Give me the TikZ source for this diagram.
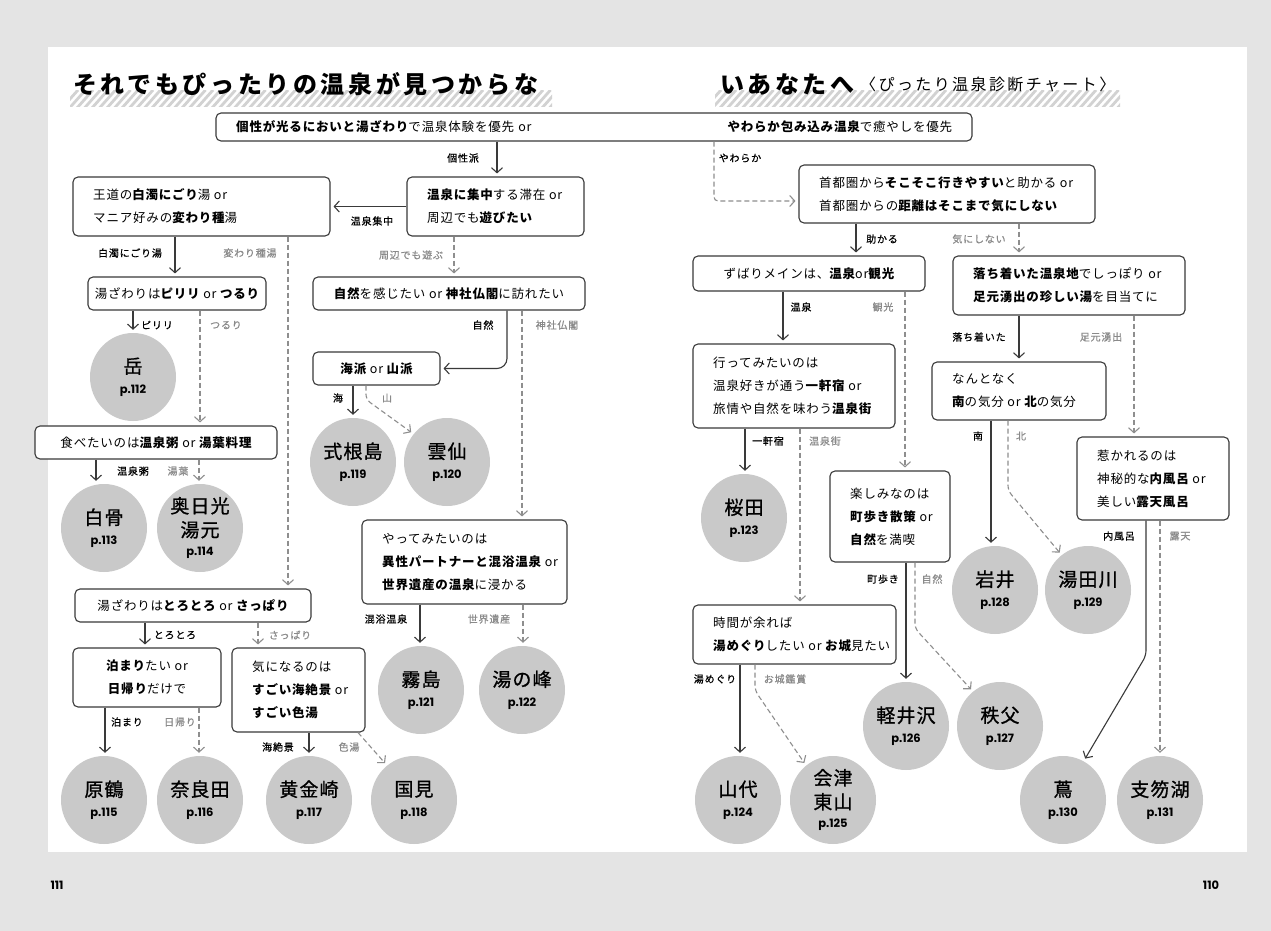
\documentclass[tikz,border=0pt]{standalone}
\usepackage{fontspec}
\usetikzlibrary{shapes.geometric,arrows.meta}
\newfontfamily\jpb[LetterSpace=6.5]{Noto Sans CJK JP}
\newfontfamily\jpl[LetterSpace=8,FakeBold=0.6]{Noto Sans CJK JP}
\newfontfamily\jpc[LetterSpace=6,FakeBold=1]{Noto Sans CJK JP}
\newfontfamily\jpt[LetterSpace=15]{Noto Sans CJK JP}
\newfontfamily\jps[LetterSpace=15]{Noto Sans CJK JP}
\newfontfamily\pg{Poppins}
\definecolor{bgc}{HTML}{E4E4E4}
\definecolor{linec}{HTML}{3A3A3A}
\definecolor{dashc}{HTML}{8E8E8E}
\definecolor{glc}{HTML}{8A8A8A}
\definecolor{circc}{HTML}{C9C9C9}
\definecolor{stripec}{HTML}{D2D2D2}
\newcommand\fb{\jpb\fontsize{12.5}{23}\selectfont}
\newcommand\fl{\jpl\fontsize{10}{12}\selectfont}
\newcommand\fc{\jpc\fontsize{19}{24}\selectfont}
\newcommand\fp{\pg\bfseries\fontsize{11.5}{13}\selectfont}
\newcommand\hb[1]{{\bfseries #1}}
\tikzset{
  box/.style={draw=linec, line width=1.1pt, rounded corners=5pt, fill=white, inner sep=0pt},
  txt/.style={font=\fb, align=left, inner sep=0pt},
  ctxt/.style={font=\fb, align=center},
  circ/.style={ellipse, fill=circc, minimum width=86pt, minimum height=88pt, inner sep=0pt, align=center, font=\fc},
  arr/.style={draw=linec, line width=1.1pt, -{Straight Barb[length=5pt,width=11pt,line width=1.1pt]}, shorten >=3pt},
  darr/.style={arr, draw=dashc, dash pattern=on 5pt off 3pt},
  lbl/.style={font=\fl, inner sep=0pt, text=black},
  glbl/.style={lbl, text=glc},
  stripe/.style={draw=stripec, line width=2.8pt}
}
\newcommand\lbox[6]{%
  \node[box, minimum width={#4-#2}, minimum height={#5-#3}] (#1) at ({(#2+#4)/2},{(#3+#5)/2}) {};
  \node[txt, anchor=west] (#1t) at ({#2+20},{(#3+#5)/2}) {#6};}
\newcommand\cbox[6]{%
  \node[box, ctxt, minimum width={#4-#2}, minimum height={#5-#3}] (#1) at ({(#2+#4)/2},{(#3+#5)/2}) {#6};}
\begin{document}
\begin{tikzpicture}[x=1pt,y=-1pt]
\useasboundingbox (0,0) rectangle (1271,931);
\fill[bgc] (0,0) rectangle (1271,931);
\fill[white] (48,47) rectangle (1247,852);
% title stripes
\begin{scope}
\clip (70,91) rectangle (552,107);
\foreach \i in {0,...,66} \draw[stripe] ({62+7.5*\i},108) -- ({62+7.5*\i+16},90);
\end{scope}
\begin{scope}
\clip (715,91) rectangle (1120,107);
\foreach \i in {0,...,56} \draw[stripe] ({705+7.5*\i},108) -- ({705+7.5*\i+16},90);
\end{scope}
\node[anchor=west, inner sep=0pt] (t1) at (73,84) {\jpt\bfseries\fontsize{24}{28}\selectfont それでもぴったりの温泉が見つからな};
\node[anchor=west, inner sep=0pt] (t2) at (720,84) {\jpt\bfseries\fontsize{24}{28}\selectfont いあなたへ};
\node[anchor=west, inner sep=0pt] (t3) at (860,84) {\jps\fontsize{16}{20}\selectfont 〈ぴったり温泉診断チャート〉};
% top box
\node[box, minimum width=756, minimum height=28] (top) at (594,127) {};
\node[txt, anchor=west, text width=716pt] (topt) at (236,127) {\hb{個性が光るにおいと湯ざわり}で温泉体験を優先 or\hfill\hb{やわらか包み込み温泉}で癒やしを優先};
% left page boxes
\lbox{q2}{407}{177}{584}{236}{\hb{温泉に集中}する滞在 or\\周辺でも\hb{遊びたい}}
\lbox{q3}{73}{177}{330}{236}{王道の\hb{白濁にごり}湯 or\\マニア好みの\hb{変わり種}湯}
\cbox{q4}{88}{277}{266}{310}{湯ざわりは\hb{ピリリ} or \hb{つるり}}
\cbox{q5}{35}{426}{277}{459}{食べたいのは\hb{温泉粥} or \hb{湯葉料理}}
\cbox{q6}{75}{589}{311}{622}{湯ざわりは\hb{とろとろ} or \hb{さっぱり}}
\cbox{q7}{73}{648}{221}{707}{\hb{泊まり}たい or\\\hb{日帰り}だけで}
\lbox{q8}{232}{648}{365}{732}{気になるのは\\\hb{すごい海絶景} or\\\hb{すごい色湯}}
\cbox{q9}{313}{277}{585}{310}{\hb{自然}を感じたい or \hb{神社仏閣}に訪れたい}
\cbox{q10}{313}{352}{440}{385}{\hb{海派} or \hb{山派}}
\lbox{q11}{362}{520}{567}{604}{やってみたいのは\\\hb{異性パートナーと混浴温泉} or\\\hb{世界遺産の温泉}に浸かる}
% right page boxes
\lbox{r1}{799}{165}{1095}{223}{首都圏から\hb{そこそこ行きやすい}と助かる or\\首都圏からの\hb{距離はそこまで気にしない}}
\cbox{r2}{693}{256}{925}{291}{ずばりメインは、\hb{温泉}or\hb{観光}}
\lbox{r3}{693}{344}{895}{428}{行ってみたいのは\\温泉好きが通う\hb{一軒宿} or\\旅情や自然を味わう\hb{温泉街}}
\lbox{r4}{830}{471}{950}{562}{楽しみなのは\\\hb{町歩き散策} or\\\hb{自然}を満喫}
\lbox{r5}{693}{605}{896}{664}{時間が余れば\\\hb{湯めぐり}したい or \hb{お城}見たい}
\lbox{r6}{953}{256}{1185}{315}{\hb{落ち着いた温泉地}でしっぽり or\\\hb{足元湧出の珍しい湯}を目当てに}
\lbox{r7}{932}{362}{1106}{420}{なんとなく\\\hb{南}の気分 or \hb{北}の気分}
\lbox{r8}{1077}{437}{1229}{520}{惹かれるのは\\神秘的な\hb{内風呂} or\\美しい\hb{露天風呂}}
% circles
\node[circ] (cTake) at (133,377) {岳\\[-4pt]{\fp p.112}};
\node[circ] (cShira) at (104,528) {白骨\\[-4pt]{\fp p.113}};
\node[circ] (cOku) at (200,528) {奥日光\\湯元\\[-5pt]{\fp p.114}};
\node[circ] (cShiki) at (353,462) {式根島\\[-4pt]{\fp p.119}};
\node[circ] (cUn) at (447,462) {雲仙\\[-4pt]{\fp p.120}};
\node[circ] (cKiri) at (421,690) {霧島\\[-4pt]{\fp p.121}};
\node[circ] (cYuno) at (522,690) {湯の峰\\[-4pt]{\fp p.122}};
\node[circ] (cHara) at (104,800) {原鶴\\[-4pt]{\fp p.115}};
\node[circ] (cNara) at (200,800) {奈良田\\[-4pt]{\fp p.116}};
\node[circ] (cKog) at (309,800) {黄金崎\\[-4pt]{\fp p.117}};
\node[circ] (cKuni) at (414,800) {国見\\[-4pt]{\fp p.118}};
\node[circ] (cSaku) at (744,518) {桜田\\[-4pt]{\fp p.123}};
\node[circ] (cIwai) at (995,590) {岩井\\[-4pt]{\fp p.128}};
\node[circ] (cYuda) at (1088,590) {湯田川\\[-4pt]{\fp p.129}};
\node[circ] (cKaru) at (906,726) {軽井沢\\[-4pt]{\fp p.126}};
\node[circ] (cChi) at (1000,726) {秩父\\[-4pt]{\fp p.127}};
\node[circ] (cYama) at (738,800) {山代\\[-4pt]{\fp p.124}};
\node[circ] (cAizu) at (833,800) {会津\\東山\\[-5pt]{\fp p.125}};
\node[circ] (cTsuta) at (1063,800) {蔦\\[-4pt]{\fp p.130}};
\node[circ] (cShiko) at (1160,800) {支笏湖\\[-4pt]{\fp p.131}};
% connectors left
\draw[arr] (top.south -| 497,0) -- (q2.north -| 497,0);
\draw[darr, rounded corners=4pt] (top.south -| 714,0) |- ([yshift=-7pt]r1.west);
\draw[arr] (q2.west) -- (q3.east);
\draw[arr] (q3.south -| 175,0) -- (q4.north -| 175,0);
\draw[darr] (q3.south -| 288,0) -- (q6.north -| 288,0);
\draw[arr] (q4.south -| 133,0) -- (cTake.north -| 133,0);
\draw[darr] (q4.south -| 200,0) -- (q5.north -| 200,0);
\draw[arr] (q5.south -| 96,0) -- (cShira.north -| 96,0);
\draw[darr] (q5.south -| 199,0) -- (cOku.north -| 199,0);
\draw[arr] (q6.south -| 145,0) -- (q7.north -| 145,0);
\draw[darr] (q6.south -| 258,0) -- (q8.north -| 258,0);
\draw[arr] (q7.south -| 105,0) -- (cHara.north -| 105,0);
\draw[darr] (q7.south -| 199,0) -- (cNara.north -| 199,0);
\draw[arr] (q8.south -| 309,0) -- (cKog.north -| 309,0);
\draw[darr] (q8.south -| 358,0) -- (cKuni.128);
\draw[darr] (q2.south -| 454,0) -- (q9.north -| 454,0);
\draw[arr, rounded corners=10pt] (q9.south -| 507,0) |- (q10.east);
\draw[darr] (q9.south -| 522,0) -- (q11.north -| 522,0);
\draw[arr] (q10.south -| 353,0) -- (cShiki.north -| 353,0);
\draw[darr, rounded corners=5pt] (q10.south -| 366,0) -- ++(0,14) -- (cUn.140);
\draw[arr] (q11.south -| 420,0) -- (cKiri.north -| 420,0);
\draw[darr] (q11.south -| 523,0) -- (cYuno.north -| 523,0);
% connectors right
\draw[arr] (r1.south -| 856,0) -- (r2.north -| 856,0);
\draw[darr] (r1.south -| 1019,0) -- (r6.north -| 1019,0);
\draw[arr] (r2.south -| 783,0) -- (r3.north -| 783,0);
\draw[darr] (r2.south -| 905,0) -- (r4.north -| 905,0);
\draw[arr] (r3.south -| 745,0) -- (cSaku.north -| 745,0);
\draw[darr] (r3.south -| 800,0) -- (r5.north -| 800,0);
\draw[arr] (r4.south -| 906,0) -- (cKaru.north -| 906,0);
\draw[darr, rounded corners=5pt] (r4.south -| 915,0) -- ++(0,66) -- (cChi.128);
\draw[arr] (r5.south -| 740,0) -- (cYama.north -| 740,0);
\draw[darr, rounded corners=5pt] (r5.south -| 755,0) -- ++(0,26) -- (cAizu.128);
\draw[arr] (r6.south -| 1019,0) -- (r7.north -| 1019,0);
\draw[darr] (r6.south -| 1134,0) -- (r8.north -| 1134,0);
\draw[arr] (r7.south -| 991,0) -- (cIwai.north -| 991,0);
\draw[darr, rounded corners=5pt] (r7.south -| 1008,0) -- ++(0,70) -- (cYuda.127);
\draw[arr, rounded corners=5pt] (r8.south -| 1146,0) -- ++(0,135) -- (cTsuta.62);
\draw[darr] (r8.south -| 1160,0) -- (cShiko.north -| 1160,0);
% labels
\node[lbl] (l1) at (463,158) {個性派};
\node[lbl] (l2) at (740,158) {やわらか};
\node[lbl] (l3) at (372,221) {温泉集中};
\node[lbl] (l4) at (130,253) {白濁にごり湯};
\node[glbl] (l5) at (250,253) {変わり種湯};
\node[lbl] (l6) at (157,325) {ピリリ};
\node[glbl] (l7) at (226,325) {つるり};
\node[glbl] (l8) at (411,255) {周辺でも遊ぶ};
\node[lbl] (l9) at (483,325) {自然};
\node[glbl] (l10) at (557,325) {神社仏閣};
\node[lbl] (l11) at (338,398) {海};
\node[glbl] (l12) at (387,398) {山};
\node[lbl] (l13) at (133,471) {温泉粥};
\node[glbl] (l14) at (178,471) {湯葉};
\node[lbl] (l15) at (386,619) {混浴温泉};
\node[glbl] (l16) at (489,619) {世界遺産};
\node[lbl] (l17) at (175,635) {とろとろ};
\node[glbl] (l18) at (290,635) {さっぱり};
\node[lbl] (l19) at (127,722) {泊まり};
\node[glbl] (l20) at (180,722) {日帰り};
\node[lbl] (l21) at (278,747) {海絶景};
\node[glbl] (l22) at (349,747) {色湯};
\node[lbl] (l23) at (882,239) {助かる};
\node[glbl] (l24) at (979,239) {気にしない};
\node[lbl] (l25) at (801,307) {温泉};
\node[glbl] (l26) at (883,307) {観光};
\node[lbl] (l27) at (979,337) {落ち着いた};
\node[glbl] (l28) at (1101,337) {足元湧出};
\node[lbl] (l29) at (768,441) {一軒宿};
\node[glbl] (l30) at (825,441) {温泉街};
\node[lbl] (l31) at (978,436) {南};
\node[glbl] (l32) at (1021,436) {北};
\node[lbl] (l33) at (1119,536) {内風呂};
\node[glbl] (l34) at (1180,536) {露天};
\node[lbl] (l35) at (883,579) {町歩き};
\node[glbl] (l36) at (932,579) {自然};
\node[lbl] (l37) at (715,679) {湯めぐり};
\node[glbl] (l38) at (785,679) {お城鑑賞};
% page numbers
\node[inner sep=0pt] (pn1) at (57,885) {\fp 111};
\node[inner sep=0pt] (pn2) at (1211,885) {\fp 110};
\end{tikzpicture}
\end{document}
